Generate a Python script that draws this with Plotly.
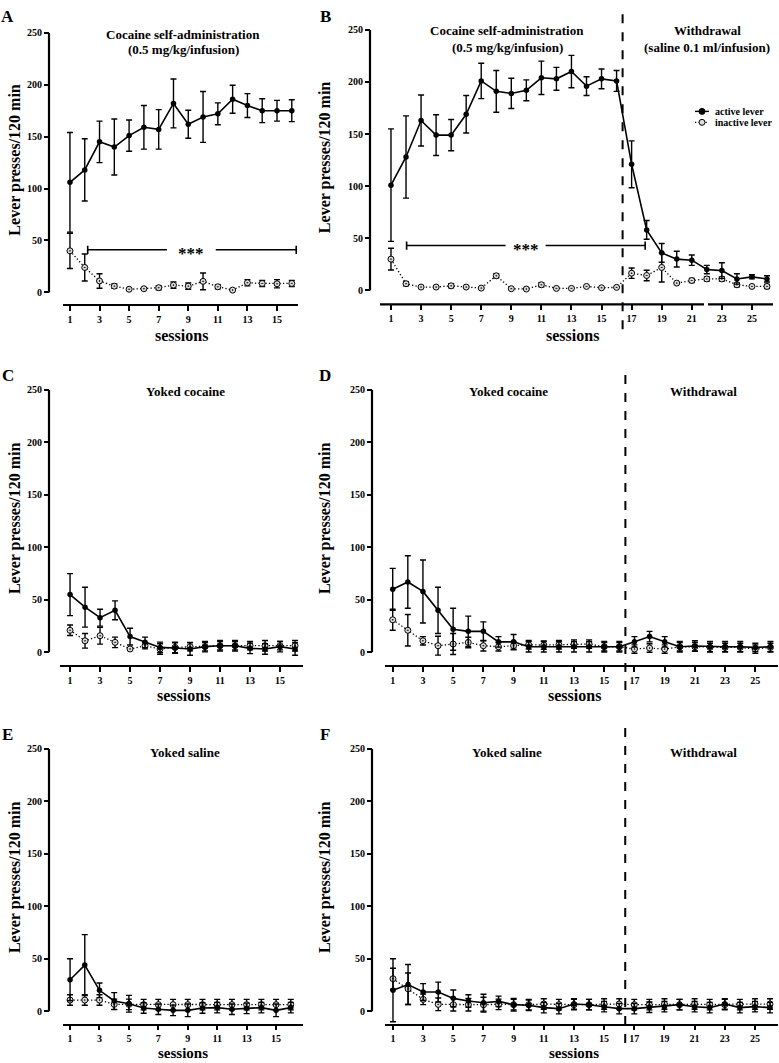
import plotly.graph_objects as go

# ---------------- data ----------------
sessions_16 = [1, 2, 3, 4, 5, 6, 7, 8, 9, 10, 11, 12, 13, 14, 15, 16]
sessions_26 = [1, 2, 3, 4, 5, 6, 7, 8, 9, 10, 11, 12, 13, 14, 15, 16,
               17, 18, 19, 20, 21, 22, 23, 24, 25, 26]
ticks_16 = [1, 3, 5, 7, 9, 11, 13, 15]
ticks_26 = [1, 3, 5, 7, 9, 11, 13, 15, 17, 19, 21, 23, 25]
y_ticks = [0, 50, 100, 150, 200, 250]

# Panel A: cocaine self-administration
A_active = [106, 118, 145, 140, 151, 159, 157, 182, 162, 169, 172, 186, 180, 175, 175, 175]
A_active_err = [48, 30, 20, 27, 15, 21, 19, 23.5, 13.5, 24.5, 10.5, 13.5, 11.5, 11.5, 10, 10.5]
A_inactive = [40, 24, 11, 6, 3, 3.5, 4.5, 7, 6, 10.6, 5.4, 2.2, 9.3, 8.6, 8.3, 8.6]
A_inactive_err = [17, 13, 7, 2, 0, 0, 2, 3, 3, 8, 2, 0, 3, 3, 4, 3]

# Panel B: cocaine self-administration + withdrawal
B_active = [101, 128, 163, 149, 149, 169, 201, 191, 189, 192, 204, 203, 210, 196, 203, 201,
            121, 58, 36, 30, 29, 20, 19, 11, 13, 11]
B_active_err = [54, 39.5, 24.5, 19.5, 15, 18, 17, 20, 14.5, 10, 16, 11, 15.5, 9, 9.5, 10,
                22.5, 9, 9, 7.5, 5, 4, 7.5, 5, 2, 3]
B_inactive = [30, 6.4, 3.2, 3.2, 4.4, 3.2, 2.2, 14, 1.6, 1.3, 5.4, 1.9, 1.9, 3.8, 2.5, 2.9,
              16.5, 14.3, 22, 7, 9.5, 11, 11, 5.4, 3.8, 3.8]
B_inactive_err = [10.5, 2, 0, 0, 2, 0, 0, 2, 0, 0, 2, 0, 0, 0, 0, 0,
                  5, 5, 14, 0, 2, 2, 2, 2, 0, 2]

# Panel C: yoked cocaine
C_active = [55, 43, 33, 40, 15, 9.5, 4.7, 4.1, 3.2, 5.4, 6.3, 6.3, 3.8, 3.2, 5.4, 3.2]
C_active_err = [20, 19, 8, 9, 8, 5, 5, 5, 6, 5, 5, 5, 5, 5, 5, 6]
C_inactive = [21, 11, 15.8, 9.5, 3.2, 6.3, 3.2, 4.7, 5.4, 5.4, 6.3, 6.3, 6.3, 6.3, 6.3, 6.3]
C_inactive_err = [5, 7, 8, 5, 0, 3, 5, 5, 4, 4, 4, 4, 4, 5, 4, 5]

# Panel D: yoked cocaine + withdrawal
D_active = [60, 67, 58, 40, 22, 20, 20, 10, 10, 5.3, 5.3, 5.3, 5.3, 5.3, 5.3, 5.3,
            10, 15, 10, 5.3, 6, 5.3, 5.3, 5.3, 4.7, 5.3]
D_active_err = [20, 25, 30, 22, 20, 14.5, 9, 5, 7, 5, 5, 5, 5, 5, 5, 5,
                5, 5, 5, 5, 5, 5, 5, 5, 4, 5]
D_inactive = [31, 21, 11, 6.3, 7.9, 9.4, 6.3, 5.3, 6.3, 7.2, 6.9, 7.2, 7.9, 7.9, 5.3, 5.3,
              3.1, 4.1, 3.1, 5.3, 5.3, 4.7, 4.7, 4.7, 3.1, 4.7]
D_inactive_err = [10, 15, 4, 9, 10, 5, 5, 4, 4, 4, 4, 4, 4, 4, 4, 4,
                  4, 4, 4, 4, 4, 4, 4, 4, 4, 4]

# Panel E: yoked saline
E_active = [30, 44, 20, 9.8, 7.2, 3.1, 1.9, 0.9, 0.9, 3.1, 3.5, 1.9, 2.8, 3.5, 0.9, 3.5]
E_active_err = [20, 29, 7, 8, 8, 5, 5, 5, 6, 5, 5, 5, 5, 5, 6, 5]
E_inactive = [10.7, 10.7, 10.7, 6.6, 6.6, 6.3, 6.3, 6.3, 6.3, 6.3, 6.3, 6.3, 6.3, 6.3, 6.3, 6.3]
E_inactive_err = [5, 5, 5, 5, 5, 5, 5, 5, 5, 5, 5, 5, 5, 5, 5, 5]

# Panel F: yoked saline + withdrawal
F_active = [20, 25.5, 18.3, 18.3, 12.3, 9.8, 8.2, 9.4, 6.3, 5.7, 3.5, 2.5, 6.9, 6.3, 4.4, 2.5,
            2.5, 3.8, 4.4, 6.3, 4.4, 3.5, 6.9, 3.5, 4.4, 3.5]
F_active_err = [30, 19, 8, 9.5, 8, 6, 8, 5, 6, 5, 5, 5, 5, 5, 5, 5,
                5, 5, 5, 5, 5, 5, 5, 5, 5, 5]
F_inactive = [31, 21.4, 11.3, 6.6, 6.3, 6.3, 6.3, 6.6, 6.3, 6.3, 6.9, 6.3, 6.3, 6.3, 6.9, 6.9,
              6.3, 6.3, 6.9, 6.3, 6.9, 6.3, 6.3, 6.3, 6.9, 6.9]
F_inactive_err = [10, 15, 5, 6, 6, 6, 7, 5, 5, 5, 5, 5, 5, 5, 5, 5,
                  5, 5, 5, 5, 5, 5, 5, 5, 5, 5]

# significance bars (session span, height)
A_sig = dict(x0=2.2, x1=16.3, y=41, gap0=7.56, gap1=10.86, xt=9.2)
B_sig = dict(x0=2.04, x1=17.9, y=43, gap0=8.62, gap1=11.28, xt=10.0)
phase_break = 16.4

# ---------------- layout helpers ----------------
W, H = 779, 1063
FONT = "Liberation Serif"
DOTTED = "1.3px,2.2px"


def px(x):
    return x / W


def py(y):
    return 1 - y / H


panels = [
    dict(letter="A", x=sessions_16, act=A_active, act_e=A_active_err, ina=A_inactive, ina_e=A_inactive_err,
         xd=(63, 298), xr=(0.53, 16.42), p0=288, p250=27, pax=300, yx=49, ticks=ticks_16,
         letter_pos=(8, 11), ytitle_x=15, sess_x=181, sess_y=331, sess_size=16, xticklen=5,
         titles=[("Cocaine self-administration", 183, 29), ("(0.5 mg/kg/infusion)", 183, 44)]),
    dict(letter="B", x=sessions_26, act=B_active, act_e=B_active_err, ina=B_inactive, ina_e=B_inactive_err,
         xd=(380, 773), xr=(0.27, 26.4), p0=286, p250=24, pax=300, yx=370, ticks=ticks_26,
         letter_pos=(325, 11), ytitle_x=325, sess_x=572, sess_y=331, sess_size=16, xticklen=5,
         titles=[("Cocaine self-administration", 507, 25), ("(0.5 mg/kg/infusion)", 507, 42),
                 ("Withdrawal", 707, 25), ("(saline 0.1 ml/infusion)", 707, 42)],
         dash=(0, 325)),
    dict(letter="C", x=sessions_16, act=C_active, act_e=C_active_err, ina=C_inactive, ina_e=C_inactive_err,
         xd=(60, 303), xr=(0.33, 16.53), p0=650, p250=386, pax=663, yx=49, ticks=ticks_16,
         letter_pos=(8, 372), ytitle_x=15, sess_x=183, sess_y=693, sess_size=16, xticklen=5,
         titles=[("Yoked cocaine", 185, 388)]),
    dict(letter="D", x=sessions_26, act=D_active, act_e=D_active_err, ina=D_inactive, ina_e=D_inactive_err,
         xd=(385, 778), xr=(0.49, 26.5), p0=650, p250=386, pax=663, yx=372, ticks=ticks_26,
         letter_pos=(325, 372), ytitle_x=325, sess_x=574, sess_y=693, sess_size=16, xticklen=5,
         titles=[("Yoked cocaine", 508, 388), ("Withdrawal", 703, 388)],
         dash=(363, 688)),
    dict(letter="E", x=sessions_16, act=E_active, act_e=E_active_err, ina=E_inactive, ina_e=E_inactive_err,
         xd=(63, 303), xr=(0.52, 16.83), p0=1011, p250=747, pax=1024, yx=49, ticks=ticks_16,
         letter_pos=(8, 733), ytitle_x=15, sess_x=183, sess_y=1053, sess_size=15, xticklen=4,
         titles=[("Yoked saline", 185, 751)]),
    dict(letter="F", x=sessions_26, act=F_active, act_e=F_active_err, ina=F_inactive, ina_e=F_inactive_err,
         xd=(385, 778), xr=(0.47, 26.53), p0=1011, p250=747, pax=1024, yx=372, ticks=ticks_26,
         letter_pos=(325, 733), ytitle_x=325, sess_x=574, sess_y=1053, sess_size=15, xticklen=4,
         titles=[("Yoked saline", 507, 751), ("Withdrawal", 703, 751)],
         dash=(725, 1043)),
]

fig = go.Figure()
shapes = []
annotations = []
layout_axes = {}

bold = dict(family=FONT, color="black", weight="bold")

for i, p in enumerate(panels, start=1):
    xname = "x" if i == 1 else f"x{i}"
    yname = "y" if i == 1 else f"y{i}"
    xkey = "xaxis" if i == 1 else f"xaxis{i}"
    ykey = "yaxis" if i == 1 else f"yaxis{i}"
    scale = (p["p0"] - p["p250"]) / 250.0
    vb = -(p["pax"] - p["p0"]) / scale

    is_B = p["letter"] == "B"
    layout_axes[xkey] = dict(
        domain=[px(p["xd"][0]), px(p["xd"][1])], range=list(p["xr"]), anchor=yname,
        showline=not is_B, linecolor="black", linewidth=2.2, mirror=False,
        ticks="outside", ticklen=p["xticklen"], tickwidth=2, tickcolor="black",
        tickvals=p["ticks"], ticktext=[str(t) for t in p["ticks"]],
        tickfont=dict(size=10, **bold), showgrid=False, zeroline=False, fixedrange=True,
    )
    layout_axes[ykey] = dict(
        domain=[py(p["pax"]), py(p["p250"])], range=[vb, 250], anchor="free", position=px(p["yx"]),
        showline=False, ticks="outside", ticklen=5, tickwidth=2, tickcolor="black",
        tickvals=y_ticks, ticktext=[str(t) for t in y_ticks],
        tickfont=dict(size=10, **bold), showgrid=False, zeroline=False, fixedrange=True,
    )

    # y axis line (0..250 only)
    shapes.append(dict(type="line", xref="paper", yref=yname, x0=px(p["yx"]), x1=px(p["yx"]),
                       y0=0, y1=250, line=dict(color="black", width=2.2)))
    if is_B:
        # broken x axis line
        for a, b in [(p["xd"][0], 704), (708, p["xd"][1])]:
            shapes.append(dict(type="line", xref="paper", yref="paper", x0=px(a), x1=px(b),
                               y0=py(p["pax"]), y1=py(p["pax"]), line=dict(color="black", width=2.2)))
    if "dash" in p:
        shapes.append(dict(type="line", xref=xname, yref="paper", x0=phase_break, x1=phase_break,
                           y0=py(p["dash"][1]), y1=py(p["dash"][0]),
                           line=dict(color="black", width=2, dash="dash")))

    # inactive lever
    fig.add_trace(go.Scatter(
        x=p["x"], y=p["ina"], xaxis=xname, yaxis=yname, mode="lines+markers", showlegend=False,
        line=dict(color="black", width=1.3, dash=DOTTED),
        marker=dict(symbol="circle-dot", size=6, color="#dcdcdc", line=dict(color="black", width=1)),
        error_y=dict(type="data", array=p["ina_e"], color="black", thickness=1.4, width=3),
        cliponaxis=False,
    ))
    # active lever
    fig.add_trace(go.Scatter(
        x=p["x"], y=p["act"], xaxis=xname, yaxis=yname, mode="lines+markers", showlegend=False,
        line=dict(color="black", width=1.6),
        marker=dict(symbol="circle", size=5.5, color="black"),
        error_y=dict(type="data", array=p["act_e"], color="black", thickness=1.4, width=3),
        cliponaxis=False,
    ))

    # panel letter
    annotations.append(dict(text=p["letter"], xref="paper", yref="paper", x=px(p["letter_pos"][0]),
                            y=py(p["letter_pos"][1]), xanchor="center", yanchor="middle",
                            showarrow=False, font=dict(size=17, **bold)))
    # y title
    annotations.append(dict(text="Lever presses/120 min", xref="paper", yref="paper",
                            x=px(p["ytitle_x"]), y=py((p["p0"] + p["p250"]) / 2 - 3),
                            xanchor="center", yanchor="middle", textangle=-90,
                            showarrow=False, font=dict(size=16, **bold)))
    # x title
    annotations.append(dict(text="sessions", xref="paper", yref="paper", x=px(p["sess_x"]),
                            y=py(p["sess_y"]), xanchor="center", yanchor="middle",
                            showarrow=False, font=dict(size=p["sess_size"], **bold)))
    for txt, tx, ty in p["titles"]:
        annotations.append(dict(text=txt, xref="paper", yref="paper", x=px(tx), y=py(ty),
                                xanchor="center", yanchor="middle", showarrow=False,
                                font=dict(size=13, **bold)))

    # significance bars
    sig = A_sig if p["letter"] == "A" else (B_sig if is_B else None)
    if sig is not None:
        cap = 4.0
        for a, b in [(sig["x0"], sig["gap0"]), (sig["gap1"], sig["x1"])]:
            shapes.append(dict(type="line", xref=xname, yref=yname, x0=a, x1=b, y0=sig["y"], y1=sig["y"],
                               line=dict(color="black", width=1.6)))
        for a in (sig["x0"], sig["x1"]):
            shapes.append(dict(type="line", xref=xname, yref=yname, x0=a, x1=a,
                               y0=sig["y"] - cap, y1=sig["y"] + cap, line=dict(color="black", width=1.6)))
        annotations.append(dict(text="***", xref=xname, yref=yname, x=sig["xt"], y=sig["y"],
                                xanchor="center", yanchor="middle", yshift=-4, showarrow=False,
                                font=dict(size=17, **bold)))

# manual legend in panel B
leg = [("active lever", 106, "solid", "black"), ("inactive lever", 117, DOTTED, "#dcdcdc")]
for label, ly, dash, fill in leg:
    shapes.append(dict(type="line", xref="paper", yref="paper", x0=px(695), x1=px(709),
                       y0=py(ly), y1=py(ly), line=dict(color="black", width=1.4, dash=dash)))
    shapes.append(dict(type="circle", xref="paper", yref="paper", x0=px(699), x1=px(705),
                       y0=py(ly + 3), y1=py(ly - 3), fillcolor=fill, line=dict(color="black", width=1)))
    annotations.append(dict(text=label, xref="paper", yref="paper", x=px(713), y=py(ly),
                            xanchor="left", yanchor="middle", showarrow=False,
                            font=dict(size=10, **bold)))

fig.update_layout(
    width=W, height=H, margin=dict(l=0, r=0, t=0, b=0),
    paper_bgcolor="white", plot_bgcolor="white",
    showlegend=False, shapes=shapes, annotations=annotations,
    font=dict(family=FONT, color="black"),
    **layout_axes,
)

fig.write_html("out.html", config={"displayModeBar": False},
               post_script="document.body.style.margin='0px';document.body.style.overflow='hidden';")
